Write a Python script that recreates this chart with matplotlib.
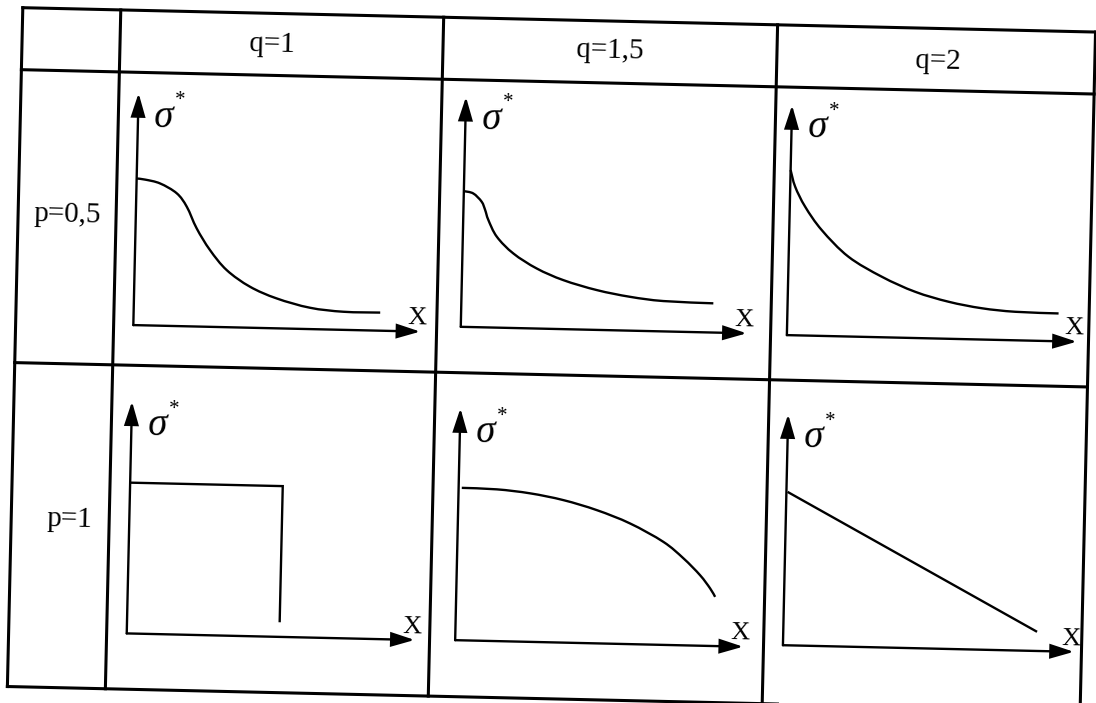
import numpy as np
import matplotlib.pyplot as plt
from matplotlib.transforms import Affine2D
from matplotlib.patches import FancyArrowPatch, ArrowStyle, PathPatch
from matplotlib.path import Path

plt.rcParams['font.family'] = ['Liberation Serif', 'DejaVu Serif']

# -------------------------
# Table texts
# -------------------------
col_labels = ['q=1', 'q=1,5', 'q=2']
row_labels = ['p=0,5', 'p=1']

# -------------------------
# Sketch curves (x: fraction of x-axis length, y: fraction of y-axis height)
# -------------------------
p05_q1_x = [0, 0.03, 0.082, 0.141, 0.177, 0.213, 0.261, 0.321, 0.403, 0.497, 0.614, 0.731, 0.859]
p05_q1_y = [0.632, 0.628, 0.613, 0.572, 0.515, 0.423, 0.331, 0.246, 0.177, 0.129, 0.092, 0.078, 0.078]

p05_q15_x = [0, 0.033, 0.063, 0.076, 0.088, 0.119, 0.178, 0.261, 0.355, 0.473, 0.59, 0.706, 0.881]
p05_q15_y = [0.59, 0.581, 0.546, 0.51, 0.467, 0.395, 0.324, 0.261, 0.213, 0.173, 0.147, 0.132, 0.127]

p05_q2_x = [0, 0.017, 0.053, 0.112, 0.206, 0.323, 0.439, 0.555, 0.67, 0.785, 0.935]
p05_q2_y = [0.718, 0.646, 0.56, 0.46, 0.347, 0.263, 0.201, 0.161, 0.136, 0.124, 0.121]

p1_q1_x = [0, 0.53, 0.53]
p1_q1_y = [0.65, 0.65, 0.063]

p1_q15_x = [0.011, 0.133, 0.249, 0.365, 0.482, 0.598, 0.715, 0.786, 0.845, 0.881, 0.899]
p1_q15_y = [0.657, 0.654, 0.64, 0.614, 0.574, 0.52, 0.444, 0.375, 0.304, 0.248, 0.212]

p1_q2_x = [0.004, 0.872]
p1_q2_y = [0.664, 0.083]

curves = [
    [(p05_q1_x, p05_q1_y), (p05_q15_x, p05_q15_y), (p05_q2_x, p05_q2_y)],
    [(p1_q1_x, p1_q1_y), (p1_q15_x, p1_q15_y), (p1_q2_x, p1_q2_y)],
]

# -------------------------
# Page layout (pixels, unrotated page, origin = top-left table corner)
# -------------------------
OX, OY, ANG = 22.8, 7.7, 1.3          # scan is slightly rotated
TW, TH = 1073, 679
col_edges = [0, 98, 421, 755, TW]
row_edges = [0, 62, 355, TH]

# axis corner (u, v), x-axis length, y-axis height for every panel
panels = [
    [(117.7, 314.8, 287, 232), (445.1, 309.1, 286, 230), (771.3, 310.0, 290, 230)],
    [(118.1, 623.2, 288, 232), (446.6, 622.5, 288, 232), (774.4, 620.1, 291, 231)],
]
col_label_pos = [(250, 31), (588, 30), (916, 33)]
row_label_pos = [(49, 206), (58, 511)]


def smooth_path(xs, ys):
    # draw the read points with a Catmull-Rom style Bezier path
    p = np.column_stack([xs, ys]).astype(float)
    ext = np.vstack([p[0], p, p[-1]])
    verts = [p[0]]
    codes = [Path.MOVETO]
    for i in range(len(p) - 1):
        p0, p1, p2, p3 = ext[i], ext[i + 1], ext[i + 2], ext[i + 3]
        verts += [p1 + (p2 - p0) / 6, p2 - (p3 - p1) / 6, p2]
        codes += [Path.CURVE4] * 3
    return Path(verts, codes)


fig = plt.figure(figsize=(10.96, 7.03), dpi=100)
ax = fig.add_axes([0, 0, 1, 1])
ax.set_xlim(0, 1096)
ax.set_ylim(703, 0)
ax.axis('off')

page = Affine2D().translate(OX, OY).rotate_deg_around(OX, OY, ANG) + ax.transData

# table grid
for u in col_edges:
    ax.plot([u, u], [0, TH], color='black', lw=2.2, transform=page, solid_capstyle='projecting')
for v in row_edges:
    ax.plot([0, TW], [v, v], color='black', lw=2.2, transform=page, solid_capstyle='projecting')

for lab, (u, v) in zip(col_labels, col_label_pos):
    ax.text(u, v, lab, transform=page, ha='center', va='center', fontsize=21,
            rotation=-ANG, rotation_mode='anchor')
for lab, (u, v) in zip(row_labels, row_label_pos):
    ax.text(u, v, lab, transform=page, ha='center', va='center', fontsize=21,
            rotation=-ANG, rotation_mode='anchor')

head = ArrowStyle('-|>', head_length=14, head_width=4.3)

for r in range(2):
    for c in range(3):
        cu, cv, L, Hh = panels[r][c]
        tr = Affine2D().scale(L, -Hh).translate(cu, cv) + page

        # axes with arrows
        for tip in [(0, 1), (1, 0)]:
            ax.add_patch(FancyArrowPatch((0, 0), tip, transform=tr, arrowstyle=head,
                                         mutation_scale=1, lw=1.7, color='black',
                                         shrinkA=0, shrinkB=0, joinstyle='miter'))

        xs, ys = curves[r][c]
        if len(xs) > 3:
            ax.add_patch(PathPatch(smooth_path(xs, ys), transform=tr, fill=False,
                                   lw=1.7, edgecolor='black', capstyle='butt'))
        else:
            ax.plot(xs, ys, color='black', lw=1.7, transform=tr,
                    solid_joinstyle='miter', solid_capstyle='butt')

        # labels, offsets in page pixels from the axis corner
        lab_tr = Affine2D().translate(cu, cv) + page
        ax.text(26, -208, 'σ', transform=lab_tr, ha='center', va='center',
                fontsize=28, fontstyle='italic', rotation=-ANG, rotation_mode='anchor')
        ax.text(42, -225, '*', transform=lab_tr, ha='center', va='center',
                fontsize=15, rotation=-ANG, rotation_mode='anchor')
        ax.text(L - 3, -13, 'X', transform=lab_tr, ha='center', va='center',
                fontsize=19, rotation=-ANG, rotation_mode='anchor')

fig.savefig('out.png', dpi=100, facecolor='white')
